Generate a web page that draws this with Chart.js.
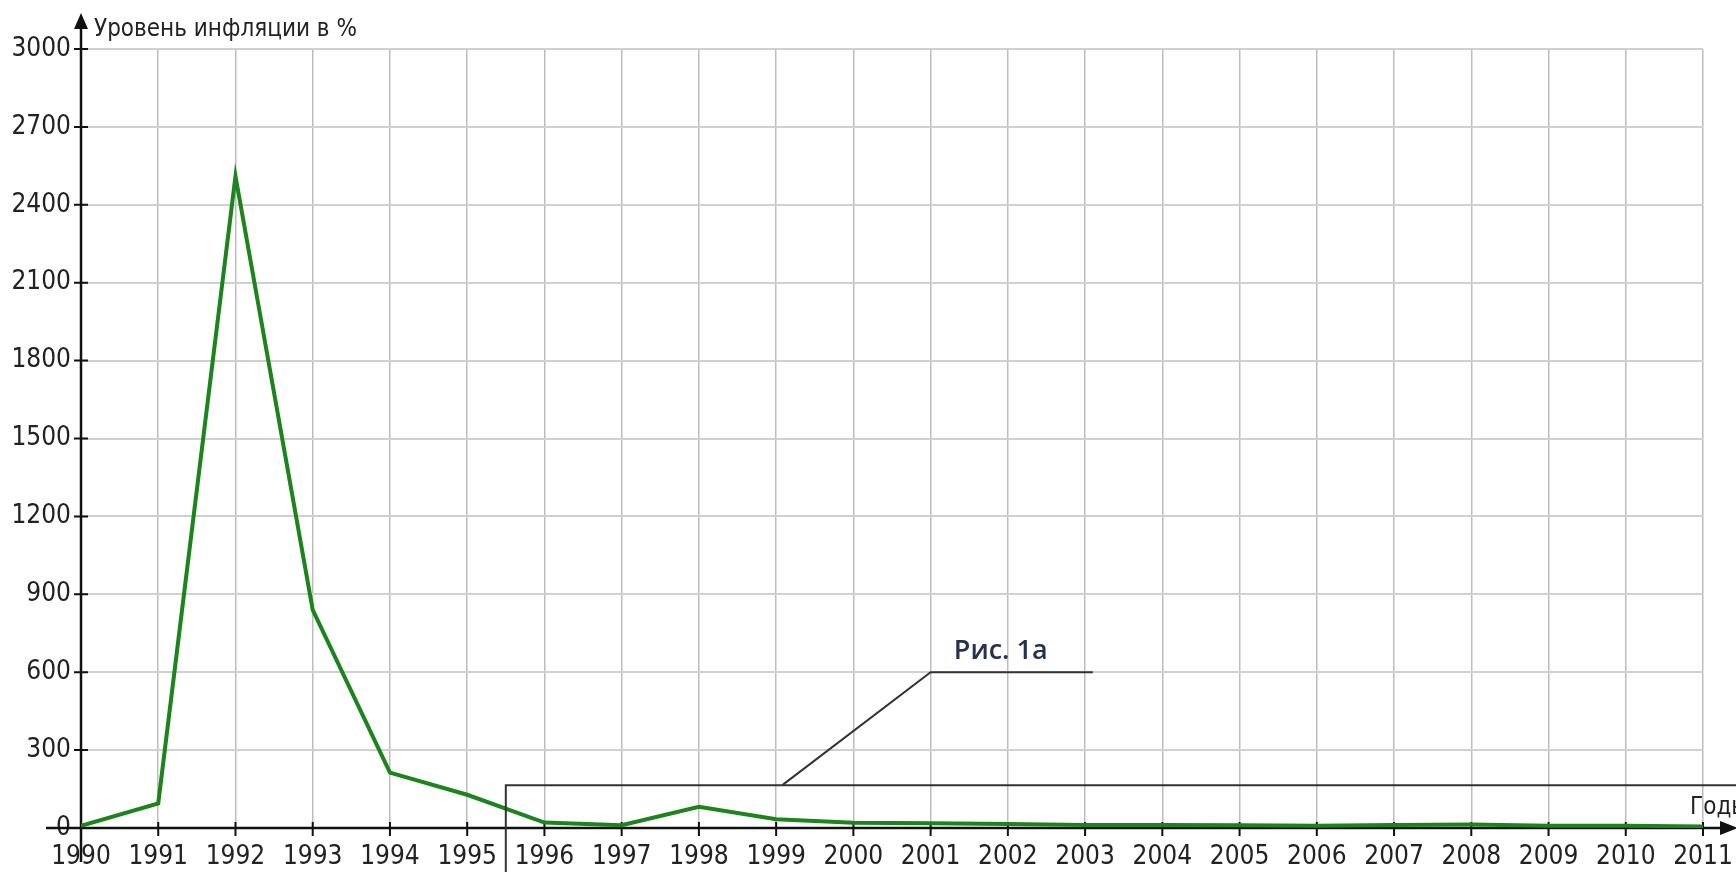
<!DOCTYPE html>
<html>
<head>
<meta charset="utf-8">
<script src="https://cdn.jsdelivr.net/npm/chart.js@4.4.0/dist/chart.umd.min.js"></script>
<style>
  html, body { margin: 0; padding: 0; background: #fff; }
  canvas { display: block; }
</style>
</head>
<body>
<canvas id="chart" width="1736" height="872"></canvas>
<script>
const years = [1990, 1991, 1992, 1993, 1994, 1995, 1996, 1997, 1998, 1999, 2000,
  2001, 2002, 2003, 2004, 2005, 2006, 2007, 2008, 2009, 2010, 2011];
const inflation = [8, 95, 2510, 840, 213, 128, 21, 11, 82, 34, 20,
  18.6, 15.1, 12, 11.7, 10.9, 9, 11.9, 13.3, 8.8, 8.8, 6.1];
const yTicks = [0, 300, 600, 900, 1200, 1500, 1800, 2100, 2400, 2700, 3000];

const yTitle = "Уровень инфляции в %";
const xTitle = "Годы";
const noteText = "Рис. 1а";
// callout, in data units (year, %)
const noteBox = { year: 1995.5, value: 165 };
const notePath = [[1999.08, 165], [2001, 600], [2003.1, 600]];
const notePos = { year: 2001.3, value: 652 };

const tickFont = "'Liberation Sans Narrow', 'DejaVu Sans Condensed', sans-serif";

const decor = {
  id: "decor",
  beforeDatasetsDraw(chart) {
    const ctx = chart.ctx;
    const area = chart.chartArea;
    const xs = chart.scales.x;
    const ys = chart.scales.y;
    ctx.save();
    ctx.strokeStyle = "#111";
    ctx.lineWidth = 2.5;
    // axes
    ctx.beginPath();
    ctx.moveTo(area.left, 28);
    ctx.lineTo(area.left, 862);
    ctx.moveTo(46, area.bottom);
    ctx.lineTo(1722, area.bottom);
    ctx.stroke();
    // tick marks
    ctx.lineWidth = 2;
    ctx.beginPath();
    yTicks.forEach((v) => {
      const y = ys.getPixelForValue(v);
      ctx.moveTo(area.left - 7, y);
      ctx.lineTo(area.left + 7, y);
    });
    years.forEach((yr) => {
      const x = xs.getPixelForValue(yr);
      ctx.moveTo(x, area.bottom - 6);
      ctx.lineTo(x, area.bottom + 8);
    });
    ctx.stroke();
    // arrows
    ctx.fillStyle = "#111";
    ctx.beginPath();
    ctx.moveTo(area.left, 13);
    ctx.lineTo(area.left - 7, 29);
    ctx.lineTo(area.left + 7, 29);
    ctx.closePath();
    ctx.fill();
    ctx.beginPath();
    ctx.moveTo(1738, area.bottom);
    ctx.lineTo(1720, area.bottom - 7);
    ctx.lineTo(1720, area.bottom + 7);
    ctx.closePath();
    ctx.fill();
    // axis titles
    ctx.font = "24px 'DejaVu Sans Condensed', sans-serif";
    ctx.fillStyle = "#222";
    ctx.textBaseline = "alphabetic";
    ctx.textAlign = "left";
    ctx.fillText(yTitle, 94, 36);
    ctx.fillText(xTitle, 1690, 814);
    ctx.restore();
  },
  afterDatasetsDraw(chart) {
    const ctx = chart.ctx;
    const xs = chart.scales.x;
    const ys = chart.scales.y;
    ctx.save();
    ctx.strokeStyle = "#333";
    ctx.lineWidth = 2;
    const bx = xs.getPixelForValue(noteBox.year);
    const by = ys.getPixelForValue(noteBox.value);
    ctx.beginPath();
    ctx.moveTo(bx, 872);
    ctx.lineTo(bx, by);
    ctx.lineTo(1736, by);
    ctx.stroke();
    ctx.beginPath();
    notePath.forEach((p, i) => {
      const x = xs.getPixelForValue(p[0]);
      const y = ys.getPixelForValue(p[1]);
      if (i === 0) ctx.moveTo(x, y); else ctx.lineTo(x, y);
    });
    ctx.stroke();
    ctx.font = "600 27px 'Open Sans', sans-serif";
    ctx.fillStyle = "#26314f";
    ctx.textAlign = "left";
    ctx.textBaseline = "alphabetic";
    ctx.fillText(noteText, xs.getPixelForValue(notePos.year), ys.getPixelForValue(notePos.value));
    ctx.restore();
  }
};

new Chart(document.getElementById("chart"), {
  type: "line",
  data: {
    labels: years,
    datasets: [
      {
        data: years.map((yr, i) => ({ x: yr, y: inflation[i] })),
        borderColor: "#1c841c",
        borderWidth: 4,
        pointRadius: 0,
        tension: 0,
        fill: false
      }
    ]
  },
  options: {
    responsive: false,
    devicePixelRatio: 1,
    animation: false,
    layout: { padding: { top: 49, right: 33, left: 0, bottom: 0 } },
    plugins: { legend: { display: false }, tooltip: { enabled: false } },
    scales: {
      x: {
        type: "linear",
        min: 1990,
        max: 2011,
        afterFit: (s) => { s.height = 44; s.paddingRight = 0; s.paddingLeft = 0; },
        afterBuildTicks: (s) => { s.ticks = years.map((v) => ({ value: v })); },
        border: { display: false },
        grid: { color: "#bdbdbd", lineWidth: 1.5, drawTicks: false },
        ticks: {
          autoSkip: false,
          maxRotation: 0,
          padding: 14,
          color: "#222",
          font: { family: tickFont, size: 26 },
          callback: (v) => String(v)
        }
      },
      y: {
        min: 0,
        max: 3000,
        afterFit: (s) => { s.width = 81; s.paddingTop = 0; s.paddingBottom = 0; },
        afterBuildTicks: (s) => { s.ticks = yTicks.map((v) => ({ value: v })); },
        border: { display: false },
        grid: { color: "#d0d0d0", lineWidth: 2, drawTicks: false },
        ticks: {
          padding: 10,
          color: "#222",
          font: { family: tickFont, size: 26 },
          callback: (v) => String(v)
        }
      }
    }
  },
  plugins: [decor]
});
</script>
</body>
</html>
